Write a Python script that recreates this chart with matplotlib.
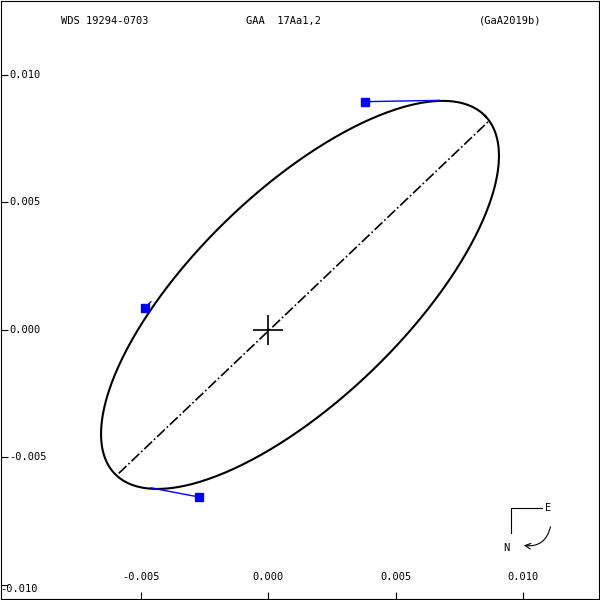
import numpy as np
import matplotlib
matplotlib.use("Agg")
import matplotlib.pyplot as plt

xticks = [-0.005, 0.000, 0.005, 0.010]
yticks = [-0.005, 0.000, 0.005, 0.010]
obs_x = [0.00379, -0.00484, -0.0027]
obs_y = [0.00895, 0.00086, -0.00656]
fit_x = [0.0067, -0.0046, -0.0046]
fit_y = [0.0090, 0.0011, -0.0062]
center = (0.00125, 0.00137)
semi_a, semi_b, angle_deg = 0.0101, 0.0041, 44.0
apsides_x = [-0.00586, 0.00867]
apsides_y = [-0.00563, 0.0082]

fig = plt.figure(figsize=(6, 6), dpi=100)
ax = fig.add_axes([0.002, 0.002, 0.996, 0.996])
ax.set_xlim(-0.01047, 0.01297)
ax.set_ylim(-0.01055, 0.01289)
mono = "DejaVu Sans Mono"

t = np.linspace(0, 2*np.pi, 400)
th = np.radians(angle_deg)
ex = center[0] + semi_a*np.cos(t)*np.cos(th) - semi_b*np.sin(t)*np.sin(th)
ey = center[1] + semi_a*np.cos(t)*np.sin(th) + semi_b*np.sin(t)*np.cos(th)
ax.plot(ex, ey, color="black", lw=1.5)
ax.plot(apsides_x, apsides_y, color="black", lw=1.2, ls="-.")
for ox, oy, fx, fy in zip(obs_x, obs_y, fit_x, fit_y):
    ax.plot([ox, fx], [oy, fy], color="blue", lw=1)
ax.plot(obs_x, obs_y, "s", color="blue", ms=6)
ax.plot([0], [0], "+", color="black", ms=22, mew=1.2)

ax.set_xticks(xticks); ax.set_yticks(yticks + [-0.010])
ax.tick_params(direction="in", length=5, labelbottom=False, labelleft=False)
for v in xticks:
    ax.text(v, -0.0099, f"{v:.3f}", ha="center", va="bottom", fontsize=7.5, family=mono)
for v in yticks:
    ax.text(-0.01015, v, f"{v:.3f}", ha="left", va="center", fontsize=7.5, family=mono)
ax.text(-0.0105, -0.01015, "-0.010", ha="left", va="center", fontsize=7.5, family=mono)

ax.text(0.1, 0.962, "WDS 19294-0703", transform=ax.transAxes, fontsize=7.5, family=mono)
ax.text(0.41, 0.962, "GAA  17Aa1,2", transform=ax.transAxes, fontsize=7.5, family=mono)
ax.text(0.80, 0.962, "(GaA2019b)", transform=ax.transAxes, fontsize=7.5, family=mono)

tr = ax.transAxes
ax.plot([0.853, 0.853, 0.905], [0.11, 0.152, 0.152], color="black", lw=0.8, transform=tr)
ax.text(0.91, 0.152, "E", transform=tr, fontsize=7.5, family=mono, va="center")
ax.text(0.84, 0.085, "N", transform=tr, fontsize=7.5, family=mono, va="center")
ax.annotate("", xy=(0.87, 0.09), xytext=(0.92, 0.125), xycoords=tr,
            arrowprops=dict(arrowstyle="->", connectionstyle="arc3,rad=-0.5", lw=0.8))
fig.savefig("out.png")
